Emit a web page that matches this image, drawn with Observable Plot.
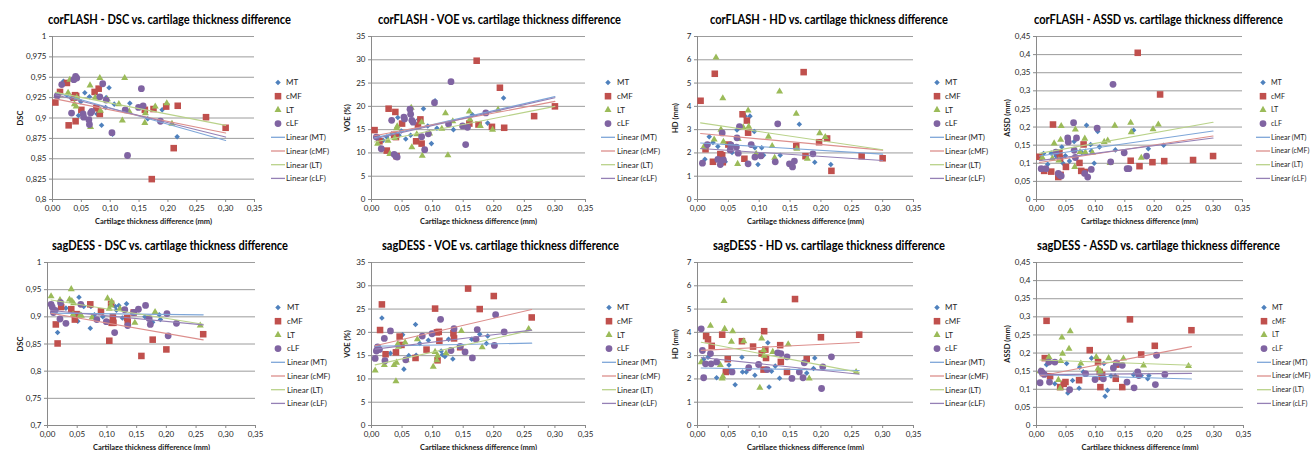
<!DOCTYPE html>
<html><head><meta charset="utf-8">
<script src="https://cdn.jsdelivr.net/npm/d3@7"></script>
<script src="https://cdn.jsdelivr.net/npm/@observablehq/plot@0.6"></script>
<style>
html,body{margin:0;padding:0;background:#fff;}
body{width:1312px;height:450px;overflow:hidden;position:relative;font-family:Lato,"Open Sans",sans-serif;}
.panel{position:absolute;width:328px;height:225px;overflow:visible;}
.panel svg.plot{position:absolute;left:0;top:0;}
.title{position:absolute;white-space:nowrap;font-weight:bold;font-size:12.5px;line-height:14px;color:#000;transform-origin:left center;}
.legend{position:absolute;left:265px;top:70px;overflow:visible;}
</style>
</head><body>
<script>
// ---------- tick values ----------
const X_TICKS = [0, 0.05, 0.10, 0.15, 0.20, 0.25, 0.30, 0.35];
const DSC_TICKS_TOP = [0.8, 0.825, 0.85, 0.875, 0.9, 0.925, 0.95, 0.975, 1];
const DSC_TICKS_BOTTOM = [0.7, 0.75, 0.8, 0.85, 0.9, 0.95, 1];
const VOE_TICKS = [0, 5, 10, 15, 20, 25, 30, 35];
const HD_TICKS = [0, 1, 2, 3, 4, 5, 6, 7];
const ASSD_TICKS = [0, 0.05, 0.1, 0.15, 0.2, 0.25, 0.3, 0.35, 0.4, 0.45];
const X_LABEL = "Cartilage thickness difference (mm)";

const COMPARTMENTS = ["MT", "cMF", "LT", "cLF"];
const COLORS = ["#4F81BD", "#C0504D", "#9BBB59", "#8064A2"];
const TREND_COLORS = ["#7EA6D8", "#DC8E8C", "#B9D28A", "#9580B5"];
const SYMBOLS = ["diamond2", "square", "triangle", "circle"];
const RADII = [2.5, 3.7, 2.6, 3.4];

// ---------- corFLASH ----------
const cf_MT_x   = [0.012,0.019,0.025,0.033,0.043,0.045,0.049,0.056,0.064,0.077,0.085,0.092,0.093,0.098,0.104,0.107,0.134,0.165,0.190,0.216];
const cf_MT_DSC = [0.930,0.945,0.928,0.924,0.926,0.903,0.920,0.931,0.926,0.905,0.891,0.913,0.925,0.937,0.880,0.917,0.918,0.899,0.910,0.877];
const cf_MT_VOE = [13.4,12.7,13.4,14.0,17.6,13.8,14.7,13.0,13.8,17.2,19.5,15.8,14.0,12.0,21.2,15.3,15.0,18.2,16.4,21.8];
const cf_MT_HD  = [1.73,2.70,2.45,2.28,1.67,1.62,2.35,2.02,2.99,3.58,3.58,2.92,2.22,1.50,2.22,1.90,1.90,3.23,1.60,1.50];
const cf_MT_ASSD= [0.127,0.097,0.128,0.120,0.145,0.100,0.121,0.106,0.160,0.130,0.205,0.152,0.133,0.100,0.188,0.145,0.137,0.191,0.140,0.150];

const cf_cMF_x   = [0.005,0.013,0.025,0.028,0.037,0.039,0.040,0.041,0.050,0.073,0.076,0.080,0.082,0.160,0.172,0.175,0.197,0.210,0.217,0.266,0.300];
const cf_cMF_DSC = [0.919,0.932,0.943,0.891,0.925,0.928,0.896,0.927,0.910,0.932,0.912,0.936,0.905,0.910,0.825,0.911,0.914,0.863,0.915,0.901,0.888];
const cf_cMF_VOE = [14.9,12.5,10.5,19.5,13.9,18.8,13.4,9.3,16.3,12.5,15.9,17.2,12.0,16.3,29.8,16.1,15.6,24.0,15.4,17.9,20.0];
const cf_cMF_HD  = [4.24,2.16,1.62,5.40,1.95,1.73,1.90,1.60,2.36,3.66,1.75,3.39,2.87,2.29,5.47,1.86,2.46,2.62,1.23,1.86,1.77];
const cf_cMF_ASSD= [0.118,0.079,0.077,0.207,0.062,0.129,0.113,0.068,0.090,0.101,0.079,0.152,0.076,0.107,0.405,0.092,0.103,0.290,0.106,0.109,0.120];

const cf_LT_x   = [0.010,0.027,0.030,0.038,0.041,0.042,0.065,0.066,0.074,0.082,0.083,0.095,0.115,0.121,0.125,0.133,0.160,0.161,0.178,0.198,0.207];
const cf_LT_DSC = [0.928,0.931,0.947,0.917,0.914,0.925,0.940,0.889,0.925,0.949,0.909,0.923,0.917,0.897,0.949,0.908,0.894,0.906,0.914,0.918,0.893];
const cf_LT_VOE = [12.0,12.6,9.8,13.2,15.3,15.7,19.7,11.2,14.0,16.6,9.4,14.2,15.2,18.5,9.5,16.8,18.9,17.2,15.8,15.0,19.3];
const cf_LT_HD  = [2.25,2.58,6.10,3.00,4.35,2.48,1.53,2.60,3.10,3.82,3.13,1.96,2.70,2.30,1.79,4.64,3.68,2.18,1.75,2.85,2.68];
const cf_LT_ASSD= [0.115,0.113,0.155,0.108,0.165,0.203,0.090,0.193,0.131,0.168,0.130,0.129,0.159,0.163,0.101,0.204,0.212,0.186,0.115,0.194,0.207];

const cf_cLF_x   = [0.008,0.016,0.033,0.037,0.040,0.042,0.053,0.054,0.063,0.064,0.066,0.068,0.082,0.087,0.093,0.103,0.126,0.130,0.149,0.154,0.157,0.187];
const cf_cLF_DSC = [0.927,0.941,0.906,0.947,0.951,0.949,0.905,0.901,0.898,0.892,0.906,0.908,0.926,0.942,0.922,0.882,0.910,0.854,0.913,0.936,0.915,0.896];
const cf_cLF_VOE = [13.4,10.9,17.0,9.7,9.3,9.1,17.7,17.3,19.4,18.3,17.0,16.6,13.5,10.7,14.1,20.8,16.2,25.3,15.8,11.8,15.5,18.6];
const cf_cLF_HD  = [1.56,2.36,1.72,1.50,2.86,1.70,2.13,2.35,2.25,2.65,1.99,3.13,1.53,2.36,1.82,1.87,1.62,3.25,1.53,1.40,1.65,1.96];
const cf_cLF_ASSD= [0.085,0.085,0.131,0.072,0.067,0.065,0.170,0.159,0.212,0.136,0.116,0.170,0.072,0.062,0.083,0.197,0.104,0.318,0.129,0.085,0.085,0.120];

// ---------- sagDESS ----------
const sd_MT_x   = [0.010,0.017,0.031,0.051,0.053,0.061,0.072,0.073,0.079,0.093,0.114,0.116,0.120,0.126,0.133,0.164,0.177,0.188,0.190];
const sd_MT_DSC = [0.910,0.871,0.916,0.892,0.936,0.919,0.879,0.919,0.904,0.900,0.919,0.912,0.921,0.898,0.924,0.900,0.890,0.904,0.895];
const sd_MT_VOE = [16.5,23.1,15.5,19.5,12.1,15.0,21.7,15.1,17.6,18.3,16.0,15.2,14.8,18.5,14.3,18.5,19.6,17.6,19.2];
const sd_MT_HD  = [2.85,2.93,2.05,2.60,2.35,1.75,2.93,2.30,2.30,2.16,3.55,1.65,2.33,2.55,2.03,2.30,2.25,2.45,2.90];
const sd_MT_ASSD= [0.145,0.168,0.115,0.171,0.090,0.124,0.103,0.161,0.148,0.186,0.171,0.081,0.097,0.137,0.137,0.140,0.138,0.129,0.138];

const sd_cMF_x   = [0.014,0.017,0.023,0.040,0.046,0.049,0.072,0.090,0.104,0.107,0.108,0.110,0.111,0.134,0.135,0.145,0.158,0.177,0.200,0.262];
const sd_cMF_DSC = [0.886,0.851,0.918,0.914,0.895,0.905,0.923,0.910,0.856,0.924,0.889,0.900,0.889,0.898,0.891,0.908,0.828,0.858,0.840,0.868];
const sd_cMF_VOE = [20.5,26.0,15.3,15.7,19.1,17.3,14.5,16.3,25.1,20.0,14.0,20.1,18.2,19.8,18.7,16.8,29.4,25.0,27.8,23.2];
const sd_cMF_HD  = [3.84,3.70,3.42,3.90,2.30,2.85,3.62,3.39,3.09,2.40,4.05,3.26,2.90,3.45,2.73,2.30,5.43,2.85,3.79,3.90];
const sd_cMF_ASSD= [0.186,0.289,0.136,0.106,0.115,0.120,0.125,0.208,0.175,0.148,0.106,0.134,0.140,0.129,0.168,0.106,0.293,0.196,0.220,0.263];

const sd_LT_x   = [0.006,0.021,0.037,0.040,0.041,0.043,0.044,0.055,0.057,0.075,0.101,0.104,0.107,0.108,0.122,0.147,0.181,0.257];
const sd_LT_DSC = [0.938,0.931,0.932,0.951,0.929,0.904,0.925,0.903,0.902,0.899,0.934,0.915,0.921,0.928,0.915,0.889,0.909,0.884];
const sd_LT_VOE = [11.8,13.0,13.0,9.5,13.5,17.5,16.9,17.8,14.0,18.5,12.6,15.8,14.0,15.0,15.5,20.3,16.8,20.7];
const sd_LT_HD  = [2.72,4.28,2.60,2.02,2.10,5.35,4.15,3.60,4.05,3.62,1.62,3.74,3.24,3.00,3.16,3.49,2.02,2.30];
const sd_LT_ASSD= [0.150,0.189,0.126,0.103,0.178,0.243,0.198,0.212,0.260,0.171,0.189,0.157,0.145,0.150,0.186,0.185,0.166,0.164];

const sd_cLF_x   = [0.006,0.008,0.010,0.013,0.021,0.022,0.031,0.056,0.083,0.099,0.113,0.130,0.135,0.145,0.153,0.165,0.171,0.173,0.201,0.203,0.217];
const sd_cLF_DSC = [0.923,0.918,0.908,0.912,0.896,0.926,0.888,0.923,0.895,0.891,0.871,0.913,0.884,0.908,0.914,0.921,0.897,0.886,0.906,0.865,0.888];
const sd_cLF_VOE = [14.4,16.0,16.9,16.3,18.7,13.9,20.3,14.1,19.2,19.7,22.8,16.1,20.8,17.0,15.8,14.5,18.5,20.6,17.2,23.8,20.1];
const sd_cLF_HD  = [4.15,3.22,2.05,2.65,3.09,2.65,2.73,2.30,2.48,2.62,2.40,3.12,3.09,2.95,2.02,2.30,2.05,2.69,1.59,2.52,2.95];
const sd_cLF_ASSD= [0.118,0.150,0.145,0.141,0.175,0.120,0.175,0.099,0.143,0.127,0.129,0.159,0.173,0.166,0.120,0.104,0.148,0.138,0.113,0.194,0.141];

// ---------- assembly ----------
const XS = {
  corFLASH: {MT: cf_MT_x, cMF: cf_cMF_x, LT: cf_LT_x, cLF: cf_cLF_x},
  sagDESS:  {MT: sd_MT_x, cMF: sd_cMF_x, LT: sd_LT_x, cLF: sd_cLF_x}
};
const YS = {
  corFLASH: {
    DSC:  {MT: cf_MT_DSC,  cMF: cf_cMF_DSC,  LT: cf_LT_DSC,  cLF: cf_cLF_DSC},
    VOE:  {MT: cf_MT_VOE,  cMF: cf_cMF_VOE,  LT: cf_LT_VOE,  cLF: cf_cLF_VOE},
    HD:   {MT: cf_MT_HD,   cMF: cf_cMF_HD,   LT: cf_LT_HD,   cLF: cf_cLF_HD},
    ASSD: {MT: cf_MT_ASSD, cMF: cf_cMF_ASSD, LT: cf_LT_ASSD, cLF: cf_cLF_ASSD}
  },
  sagDESS: {
    DSC:  {MT: sd_MT_DSC,  cMF: sd_cMF_DSC,  LT: sd_LT_DSC,  cLF: sd_cLF_DSC},
    VOE:  {MT: sd_MT_VOE,  cMF: sd_cMF_VOE,  LT: sd_LT_VOE,  cLF: sd_cLF_VOE},
    HD:   {MT: sd_MT_HD,   cMF: sd_cMF_HD,   LT: sd_LT_HD,   cLF: sd_cLF_HD},
    ASSD: {MT: sd_MT_ASSD, cMF: sd_cMF_ASSD, LT: sd_LT_ASSD, cLF: sd_cLF_ASSD}
  }
};

const PANELS = [
  {seq:"corFLASH", metric:"DSC",  ylabel:"DSC",       ticks:DSC_TICKS_TOP,    left:0,   top:0,   ml:52, pr:254, ylx:20, legX:278, legT:286, legF:8,   tW:243, tC:169.5},
  {seq:"corFLASH", metric:"VOE",  ylabel:"VOE (%)",   ticks:VOE_TICKS,        left:328, top:0,   ml:43, pr:257, ylx:19, legX:280, legT:289, legF:8,   tW:243, tC:171.7},
  {seq:"corFLASH", metric:"HD",   ylabel:"HD (mm)",   ticks:HD_TICKS,         left:656, top:0,   ml:41, pr:257, ylx:19, legX:281, legT:289, legF:8,   tW:238, tC:172.5},
  {seq:"corFLASH", metric:"ASSD", ylabel:"ASSD (mm)", ticks:ASSD_TICKS,       left:984, top:0,   ml:52, pr:258, ylx:23, legX:279, legT:287, legF:7.1, tW:249, tC:174.5},
  {seq:"sagDESS",  metric:"DSC",  ylabel:"DSC",       ticks:DSC_TICKS_BOTTOM, left:0,   top:225, ml:47, pr:255, ylx:20, legX:278, legT:287, legF:8,   tW:236, tC:170},
  {seq:"sagDESS",  metric:"VOE",  ylabel:"VOE (%)",   ticks:VOE_TICKS,        left:328, top:225, ml:43, pr:257, ylx:19, legX:281, legT:289, legF:8,   tW:237, tC:172},
  {seq:"sagDESS",  metric:"HD",   ylabel:"HD (mm)",   ticks:HD_TICKS,         left:656, top:225, ml:41, pr:257, ylx:19, legX:281, legT:289, legF:8,   tW:232, tC:173},
  {seq:"sagDESS",  metric:"ASSD", ylabel:"ASSD (mm)", ticks:ASSD_TICKS,       left:984, top:225, ml:52, pr:259, ylx:23, legX:280, legT:288, legF:7.1, tW:243, tC:174.7}
];

const fmtX = d => d.toFixed(2).replace(".", ",");
const fmtY = d => String(+d.toFixed(3)).replace(".", ",");

function linreg(xs, ys) {
  const mx = d3.mean(xs), my = d3.mean(ys);
  let sxy = 0, sxx = 0;
  xs.forEach((x, i) => { sxy += (x - mx) * (ys[i] - my); sxx += (x - mx) * (x - mx); });
  const b = sxy / sxx;
  return {a: my - b * mx, b};
}

PANELS.forEach(p => {
  const bottomRow = p.top > 0;
  const mt = bottomRow ? 37 : 36;
  const pb = bottomRow ? 200 : 199;
  const W = 262, H = 225;

  const series = COMPARTMENTS.map((c, i) => {
    const xs = XS[p.seq][c], ys = YS[p.seq][p.metric][c];
    return {c, i, rows: xs.map((x, j) => ({x, y: ys[j]})), xs, ys};
  });
  const allX = series.flatMap(s => s.xs);
  const x0 = d3.min(allX), x1 = d3.max(allX);

  const dotMarks = series.map(s => Plot.dot(s.rows, {
    x: "x", y: "y", symbol: SYMBOLS[s.i], fill: COLORS[s.i], r: RADII[s.i], stroke: "none"
  }));
  const trendMarks = series.map(s => {
    const {a, b} = linreg(s.xs, s.ys);
    const pts = [{x: x0, y: a + b * x0}, {x: x1, y: a + b * x1}];
    return Plot.line(pts, {x: "x", y: "y", stroke: TREND_COLORS[s.i], strokeWidth: 1.1});
  });

  const svg = Plot.plot({
    width: W, height: H,
    marginLeft: p.ml, marginRight: W - p.pr, marginTop: mt, marginBottom: H - pb,
    x: {domain: [0, 0.35]},
    y: {domain: [p.ticks[0], p.ticks[p.ticks.length - 1]]},
    style: {fontFamily: "Lato, 'Open Sans', sans-serif", fontSize: "8px", color: "#262626", background: "transparent", overflow: "visible"},
    marks: [
      Plot.gridY(p.ticks, {stroke: "#9c9c9c", strokeOpacity: 1}),
      Plot.ruleX([0], {stroke: "#8a8a8a"}),
      Plot.ruleY([p.ticks[0]], {stroke: "#8a8a8a"}),
      Plot.axisY(p.ticks, {tickSize: 3, tickPadding: 3, tickFormat: fmtY, stroke: "#8a8a8a", label: null}),
      Plot.axisX(X_TICKS, {tickSize: 3, tickPadding: 2.5, tickFormat: fmtX, stroke: "#8a8a8a", label: null}),
      ...dotMarks,
      ...trendMarks,
      Plot.text([p.ylabel], {text: d => d, frameAnchor: "left", rotate: -90, textAnchor: "middle", lineAnchor: "middle",
        dx: -(p.ml - p.ylx), fontWeight: "bold", fontSize: 7.5, fill: "#1a1a1a"}),
      Plot.text([X_LABEL], {text: d => d, frameAnchor: "bottom", textAnchor: "middle", lineAnchor: "middle",
        dy: 22, fontWeight: "bold", fontSize: 7.5, fill: "#1a1a1a"})
    ]
  });
  svg.classList.add("plot");

  const panel = document.createElement("div");
  panel.className = "panel";
  panel.style.left = p.left + "px";
  panel.style.top = p.top + "px";
  panel.appendChild(svg);

  // title
  const title = document.createElement("div");
  title.className = "title";
  title.textContent = `${p.seq} - ${p.metric} vs. cartilage thickness difference`;
  title.style.top = (bottomRow ? 14 : 13) + "px";
  panel.appendChild(title);

  // legend
  const legW = 70, legH = 120;
  const leg = d3.create("svg").attr("class", "legend").attr("width", legW).attr("height", legH);
  const labels = [...COMPARTMENTS, ...COMPARTMENTS.map(c => `Linear (${c})`)];
  labels.forEach((lab, k) => {
    const yy = 82.5 + k * 13.7 - 70;
    const mx = p.legX - 265;
    const si = k % 4;
    if (k < 4) {
      const symType = [d3.symbolDiamond2, d3.symbolSquare, d3.symbolTriangle, d3.symbolCircle][si];
      const r = RADII[si];
      leg.append("path")
        .attr("d", d3.symbol(symType, Math.PI * r * r)())
        .attr("transform", `translate(${mx},${yy})`)
        .attr("fill", COLORS[si]);
    } else {
      leg.append("line").attr("x1", mx - 7).attr("x2", mx + 7).attr("y1", yy).attr("y2", yy)
        .attr("stroke", TREND_COLORS[si]).attr("stroke-width", 1.3);
    }
    leg.append("text").attr("x", p.legT - 265).attr("y", yy).attr("dy", "0.35em")
      .attr("font-family", "Lato, 'Open Sans', sans-serif").attr("font-size", p.legF).attr("fill", "#262626")
      .text(lab);
  });
  panel.appendChild(leg.node());

  document.body.appendChild(panel);

  // fit title width to the reference width
  const w = title.getBoundingClientRect().width;
  const s = p.tW / w;
  title.style.left = (p.tC - p.tW / 2) + "px";
  title.style.transform = `scaleX(${s})`;
});
</script>
</body></html>
